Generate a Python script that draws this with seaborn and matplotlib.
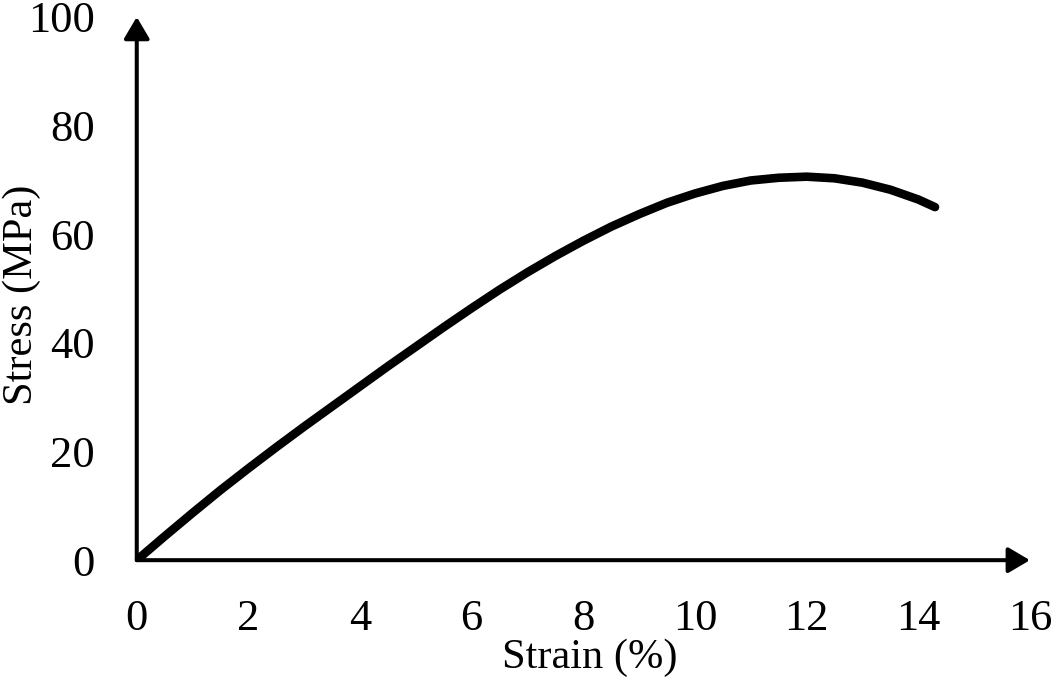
import pandas as pd
import seaborn as sns
from matplotlib import pyplot as plt

# stress-strain curve
strain = [0, 0.5, 1, 1.5, 2, 2.5, 3, 3.5, 4, 4.5, 5, 5.5, 6, 6.5, 7, 7.5,
          8, 8.5, 9, 9.5, 10, 10.5, 11, 11.5, 12, 12.5, 13, 13.5, 14, 14.3]
stress = [0, 4.4, 8.7, 12.9, 16.9, 20.8, 24.6, 28.3, 32.0, 35.7, 39.3, 42.9,
          46.4, 49.8, 53.0, 56.0, 58.8, 61.4, 63.7, 65.8, 67.5, 68.9, 69.9,
          70.4, 70.6, 70.3, 69.5, 68.2, 66.4, 65.0]
x_ticks = [0, 2, 4, 6, 8, 10, 12, 14, 16]
y_ticks = [0, 20, 40, 60, 80, 100]

df = pd.DataFrame({'Strain (%)': strain, 'Stress (MPa)': stress})

sns.set_theme(style='white')
plt.rcParams['font.family'] = ['Liberation Serif', 'DejaVu Serif']

fig = plt.figure(figsize=(10.52, 6.79), dpi=100)
ax = fig.add_axes([0.130, 0.175, 0.849, 0.800])

sns.lineplot(data=df, x='Strain (%)', y='Stress (MPa)', ax=ax, color='black',
             linewidth=6.2, solid_capstyle='round', solid_joinstyle='round',
             sort=False, estimator=None)

ax.set_xlim(0, 16)
ax.set_ylim(0, 100)
ax.set_xticks(x_ticks)
ax.set_yticks(y_ticks)
ax.tick_params(axis='both', length=0, labelsize=32, colors='black')
ax.tick_params(axis='x', pad=28)
ax.tick_params(axis='y', pad=30)
for s in ax.spines.values():
    s.set_visible(False)

# axes drawn as arrows
arrow = dict(arrowstyle='-|>,head_length=1.1,head_width=0.65', color='black',
             lw=2.9, shrinkA=0, shrinkB=0)
ax.annotate('', xy=(0, 1.0), xytext=(0, 0), xycoords='axes fraction',
            arrowprops=arrow, annotation_clip=False)
ax.annotate('', xy=(1.0, 0), xytext=(0, 0), xycoords='axes fraction',
            arrowprops=arrow, annotation_clip=False)

ax.set_xlabel('Strain (%)', fontsize=30.5, color='black')
ax.set_ylabel('Stress (MPa)', fontsize=30.5, color='black')
ax.xaxis.set_label_coords(0.507, -0.145)
ax.yaxis.set_label_coords(-0.107, 0.488)

fig.savefig('out.png', dpi=100, facecolor='white')
plt.close()
